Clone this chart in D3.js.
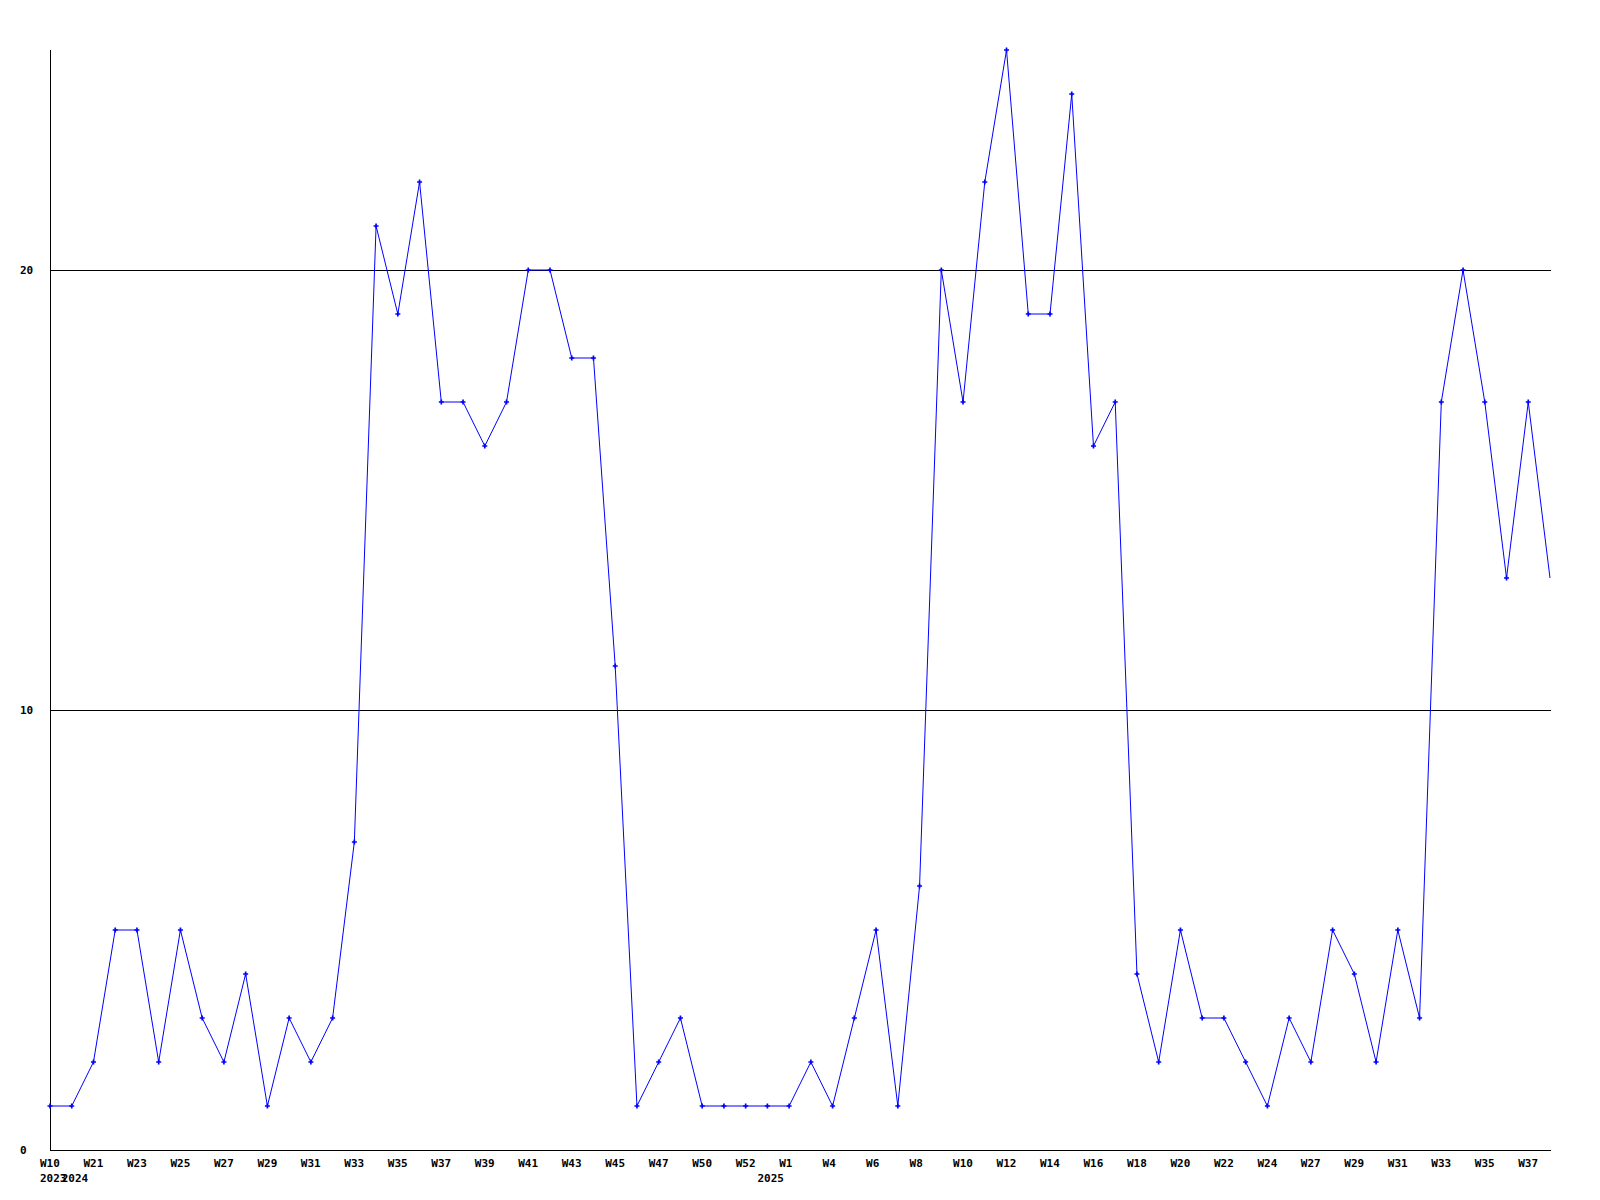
<!DOCTYPE html>
<html>
<head>
<meta charset="utf-8">
<script src="https://cdn.jsdelivr.net/npm/d3@7"></script>
<style>
    body { margin: 0; background: #fff; }
    text { font-family: "DejaVu Sans Mono", monospace; font-weight: bold; font-size: 11px; fill: #000; }
</style>
</head>
<body>
<div id="chart"></div>
<script>
// one label per point (week number as shown under the axis)
var weeks = ["W10", "W20", "W21", "W22", "W23", "W24", "W25", "W26", "W27", "W28",
    "W29", "W30", "W31", "W32", "W33", "W34", "W35", "W36", "W37", "W38",
    "W39", "W40", "W41", "W42", "W43", "W44", "W45", "W46", "W47", "W48",
    "W50", "W51", "W52", "W0", "W1", "W3", "W4", "W5", "W6", "W7",
    "W8", "W9", "W10", "W11", "W12", "W13", "W14", "W15", "W16", "W17",
    "W18", "W19", "W20", "W21", "W22", "W23", "W24", "W25", "W27", "W28",
    "W29", "W30", "W31", "W32", "W33", "W34", "W35", "W36", "W37", "W38"];

var values = [1, 1, 2, 5, 5, 2, 5, 3, 2, 4,
    1, 3, 2, 3, 7, 21, 19, 22, 17, 17,
    16, 17, 20, 20, 18, 18, 11, 1, 2, 3,
    1, 1, 1, 1, 1, 2, 1, 3, 5, 1,
    6, 20, 17, 22, 25, 19, 19, 24, 16, 17,
    4, 2, 5, 3, 3, 2, 1, 3, 2, 5,
    4, 2, 5, 3, 17, 20, 17, 13, 17, 13];

// year labels and the point they sit under
var years = ["2023", "2024", "2025"];
var yearIndex = [0, 1, 33];

var yTicks = [0, 10, 20];
var yMax = 25;

function main() {
    var margin = { top: 50, left: 50, right: 49, bottom: 50 },
    width = 1600 - margin.left - margin.right,
    height = 1200 - margin.top - margin.bottom;

    var svg = d3.select("#chart")
    .append("svg")
    .attr("width", 1600)
    .attr("height", 1200)
    .append("g")
    .attr("transform", "translate(" + margin.left + "," + margin.top + ")");

    var x = d3.scaleLinear()
    .domain([0, values.length - 1])
    .range([0, width - 1]);

    var y = d3.scaleLinear()
    .domain([0, yMax])
    .range([height, 0]);

    // horizontal grid lines (not at 0, the axis covers it)
    svg.selectAll(".grid")
    .data(yTicks.filter(d => d > 0))
    .enter().append("line")
    .attr("class", "grid")
    .attr("x1", 0)
    .attr("x2", width)
    .attr("y1", d => Math.round(y(d)) + 0.5)
    .attr("y2", d => Math.round(y(d)) + 0.5)
    .attr("stroke", "#000")
    .attr("shape-rendering", "crispEdges");

    // axes lines
    svg.append("line")
    .attr("x1", 0.5).attr("x2", 0.5)
    .attr("y1", 0).attr("y2", height)
    .attr("stroke", "#000")
    .attr("shape-rendering", "crispEdges");

    svg.append("line")
    .attr("x1", 0).attr("x2", width)
    .attr("y1", height + 0.5).attr("y2", height + 0.5)
    .attr("stroke", "#000")
    .attr("shape-rendering", "crispEdges");

    // y labels
    svg.selectAll(".ylabel")
    .data(yTicks)
    .enter().append("text")
    .attr("class", "ylabel")
    .attr("x", -30)
    .attr("y", d => y(d) + 4)
    .text(d => d);

    // week labels, every other point
    var idx = d3.range(values.length);
    svg.selectAll(".xlabel")
    .data(idx.filter(i => i % 2 == 0))
    .enter().append("text")
    .attr("class", "xlabel")
    .attr("x", i => x(i) - 10)
    .attr("y", height + 17)
    .text(i => weeks[i]);

    svg.selectAll(".year")
    .data(years)
    .enter().append("text")
    .attr("class", "year")
    .attr("x", (d, i) => x(yearIndex[i]) - 10)
    .attr("y", height + 32)
    .text(d => d);

    var line = d3.line()
    .x((d, i) => x(i))
    .y(d => y(d));

    svg.append("path")
    .datum(values)
    .attr("d", line)
    .attr("fill", "none")
    .attr("stroke", "#0000ff")
    .attr("stroke-width", 1);

    // markers on every point except the last one
    var marker = d3.symbol().type(d3.symbolCross).size(14);
    svg.selectAll(".dot")
    .data(idx.slice(0, -1))
    .enter().append("path")
    .attr("class", "dot")
    .attr("d", marker)
    .attr("transform", i => "translate(" + x(i) + "," + y(values[i]) + ")")
    .attr("fill", "#0000ff");
}

main();
</script>
</body>
</html>
